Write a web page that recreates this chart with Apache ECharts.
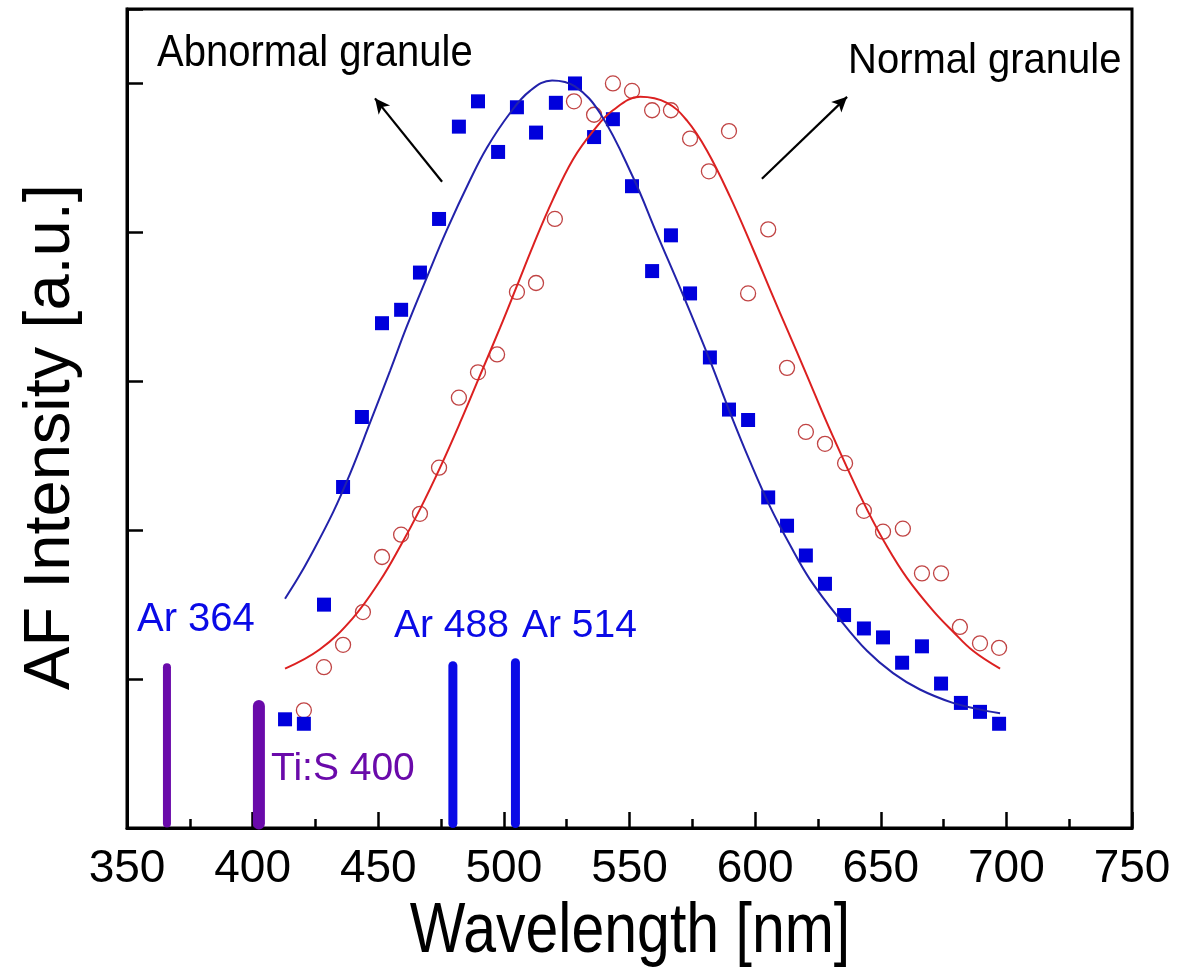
<!DOCTYPE html>
<html>
<head>
<meta charset="utf-8">
<script src="https://cdn.jsdelivr.net/npm/echarts@6/dist/echarts.min.js"></script>
<style>
html,body{margin:0;padding:0;background:#fff;}
#chart{width:1178px;height:972px;}
</style>
</head>
<body>
<div id="chart"></div>
<script>
// ---- data ----
const abnormalWavelength = [412.9, 420.4, 428.4, 436.0, 443.5, 451.5, 459.1, 466.6, 474.2, 482.1, 489.7, 497.7, 505.2, 512.8, 520.7, 528.3, 535.9, 543.4, 551.0, 559.0, 566.5, 574.1, 582.0, 589.6, 597.2, 605.2, 612.7, 620.2, 627.8, 635.4, 643.3, 650.9, 658.5, 666.4, 674.0, 681.9, 689.5, 697.1];
const abnormalIntensity = [0.73, 0.70, 1.50, 2.29, 2.76, 3.39, 3.48, 3.73, 4.09, 4.71, 4.88, 4.54, 4.84, 4.67, 4.87, 5.00, 4.64, 4.76, 4.31, 3.74, 3.98, 3.59, 3.16, 2.81, 2.74, 2.22, 2.03, 1.83, 1.64, 1.43, 1.34, 1.28, 1.11, 1.22, 0.97, 0.84, 0.78, 0.70];

const normalWavelength = [420.4, 428.4, 436.0, 443.9, 451.5, 459.1, 466.6, 474.2, 482.1, 489.7, 497.3, 505.2, 512.8, 520.3, 527.9, 535.9, 543.4, 551.0, 559.0, 566.5, 574.1, 581.6, 589.6, 597.2, 605.2, 612.7, 620.2, 627.8, 635.8, 643.3, 650.9, 658.8, 666.4, 674.0, 681.5, 689.5, 697.1];
const normalIntensity = [0.79, 1.08, 1.23, 1.45, 1.82, 1.97, 2.11, 2.42, 2.89, 3.06, 3.18, 3.60, 3.66, 4.09, 4.88, 4.79, 5.00, 4.95, 4.82, 4.82, 4.63, 4.41, 4.68, 3.59, 4.02, 3.09, 2.66, 2.58, 2.45, 2.13, 1.99, 2.01, 1.71, 1.71, 1.35, 1.24, 1.21];

const abnormalFitWavelength = [412.9, 418.1, 422.8, 432.0, 438.8, 446.7, 454.7, 461.4, 469.4, 477.4, 486.5, 493.3, 502.4, 510.4, 519.2, 528.3, 538.3, 551.4, 560.9, 571.3, 582.0, 590.0, 598.0, 605.9, 613.9, 621.8, 633.8, 644.5, 654.9, 665.6, 678.7, 688.3, 697.5];
const abnormalFitIntensity = [1.54, 1.68, 1.82, 2.12, 2.38, 2.72, 3.07, 3.37, 3.70, 4.02, 4.35, 4.57, 4.80, 4.95, 5.02, 4.98, 4.80, 4.37, 3.99, 3.58, 3.14, 2.79, 2.46, 2.16, 1.90, 1.67, 1.40, 1.19, 1.04, 0.93, 0.84, 0.80, 0.77];

const normalFitWavelength = [412.9, 426.8, 439.9, 450.7, 458.7, 466.6, 474.6, 482.5, 490.5, 498.5, 505.2, 511.6, 519.5, 527.5, 535.5, 543.4, 554.2, 564.9, 572.9, 580.8, 590.0, 599.1, 607.1, 612.7, 620.6, 628.6, 636.6, 644.5, 652.5, 660.4, 670.8, 678.7, 686.7, 697.5];
const normalFitIntensity = [1.07, 1.20, 1.41, 1.66, 1.89, 2.14, 2.42, 2.72, 3.04, 3.36, 3.64, 3.91, 4.22, 4.49, 4.68, 4.82, 4.91, 4.87, 4.75, 4.55, 4.24, 3.89, 3.57, 3.35, 3.04, 2.72, 2.42, 2.14, 1.89, 1.68, 1.46, 1.32, 1.19, 1.07];

const laserNames = ['Ar 364', 'Ti:S 400', 'Ar 488', 'Ar 514'];
const laserWavelength = [365.9, 402.5, 479.7, 504.6];
const laserHeight = [1.08, 0.82, 1.09, 1.11];

const xTicks = [350, 400, 450, 500, 550, 600, 650, 700, 750];
const xTitle = 'Wavelength [nm]';
const yTitle = 'AF Intensity [a.u.]';
const annotations = ['Abnormal granule', 'Normal granule'];

// ---- styles ----
const FONT = "'Liberation Sans', Arial, Helvetica, sans-serif";
const laserColors = ['#6a0aaa', '#6a0aaa', '#0a0ae6', '#0a0ae6'];
const laserWidths = [8, 12, 9, 9];

function pairs(xs, ys) { return xs.map((x, i) => [x, ys[i]]); }

const chart = echarts.init(document.getElementById('chart'), null, {renderer: 'canvas'});

const option = {
  animation: false,
  backgroundColor: '#fff',
  grid: {left: 127, right: 46, top: 9, bottom: 144, show: true, borderColor: '#000', borderWidth: 3, backgroundColor: 'transparent'},
  xAxis: {
    type: 'value', min: xTicks[0], max: xTicks[xTicks.length - 1], interval: 50,
    axisLine: {show: true, onZero: false, lineStyle: {color: '#000', width: 3}},
    axisTick: {show: true, inside: true, length: 16, lineStyle: {color: '#000', width: 2.5}},
    minorTick: {show: true, splitNumber: 2, length: 9, lineStyle: {color: '#000', width: 2.5}},
    splitLine: {show: false},
    axisLabel: {fontSize: 46, color: '#000', fontFamily: FONT, margin: 18}
  },
  yAxis: {
    type: 'value', min: 0, max: 5.5, interval: 1,
    axisLine: {show: true, onZero: false, lineStyle: {color: '#000', width: 3}},
    axisTick: {show: true, inside: true, length: 16, lineStyle: {color: '#000', width: 2.5}},
    splitLine: {show: false},
    axisLabel: {show: false}
  },
  series: [
    {
      name: 'Normal', type: 'scatter', symbol: 'circle', symbolSize: 15,
      itemStyle: {color: 'rgba(255,255,255,0)', borderColor: '#c04444', borderWidth: 1.3, opacity: 1},
      data: pairs(normalWavelength, normalIntensity), z: 2
    },
    {
      name: 'Abnormal', type: 'scatter', symbol: 'rect', symbolSize: 14,
      itemStyle: {color: '#0000dc', opacity: 1},
      data: pairs(abnormalWavelength, abnormalIntensity), z: 3
    },
    {
      name: 'Normal fit', type: 'line', showSymbol: false, smooth: 0.4,
      lineStyle: {color: '#dc2020', width: 2},
      data: pairs(normalFitWavelength, normalFitIntensity), z: 4
    },
    {
      name: 'Abnormal fit', type: 'line', showSymbol: false, smooth: 0.4,
      lineStyle: {color: '#2222aa', width: 2},
      data: pairs(abnormalFitWavelength, abnormalFitIntensity), z: 4,
      markLine: {
        silent: true, animation: false,
        symbolSize: [11, 15],
        lineStyle: {color: '#000', width: 2.2, type: 'solid'},
        label: {show: false},
        data: [
          [{coord: [475.4, 4.34], symbol: 'none'}, {coord: [448.7, 4.90], symbol: 'arrow'}],
          [{coord: [602.7, 4.36], symbol: 'none'}, {coord: [636.6, 4.91], symbol: 'arrow'}]
        ]
      }
    },
    {
      name: 'Lasers', type: 'custom', z: 5,
      data: laserWavelength.map((x, i) => [x, laserHeight[i], i]),
      renderItem: function (params, api) {
        const i = api.value(2);
        const top = api.coord([api.value(0), api.value(1)]);
        const bottom = api.coord([api.value(0), 0.03]);
        return {
          type: 'line',
          shape: {x1: bottom[0], y1: bottom[1], x2: top[0], y2: top[1]},
          style: {stroke: laserColors[i], lineWidth: laserWidths[i], lineCap: 'round'}
        };
      }
    }
  ],
  graphic: [
    {type: 'text', x: 630, y: 897, scaleY: 1.2, style: {text: xTitle, font: "59px " + FONT, fill: '#000', align: 'center', verticalAlign: 'top'}},
    {type: 'text', x: 51, y: 437, rotation: Math.PI / 2, style: {text: yTitle, font: "65px " + FONT, fill: '#000', align: 'center', verticalAlign: 'middle'}},
    {type: 'text', x: 157, y: 31, scaleY: 1.12, style: {text: annotations[0], font: "40px " + FONT, fill: '#000', align: 'left', verticalAlign: 'top'}},
    {type: 'text', x: 848, y: 40, scaleY: 1.06, style: {text: annotations[1], font: "40px " + FONT, fill: '#000', align: 'left', verticalAlign: 'top'}},
    {type: 'text', x: 137, y: 600, style: {text: laserNames[0], font: "40px " + FONT, fill: '#0a0ae6', align: 'left', verticalAlign: 'top'}},
    {type: 'text', x: 271, y: 750, style: {text: laserNames[1], font: "39px " + FONT, fill: '#6a0aaa', align: 'left', verticalAlign: 'top'}},
    {type: 'text', x: 394, y: 607, style: {text: laserNames[2], font: "39px " + FONT, fill: '#0a0ae6', align: 'left', verticalAlign: 'top'}},
    {type: 'text', x: 522, y: 607, style: {text: laserNames[3], font: "39px " + FONT, fill: '#0a0ae6', align: 'left', verticalAlign: 'top'}}
  ]
};
chart.setOption(option);
</script>
</body>
</html>
